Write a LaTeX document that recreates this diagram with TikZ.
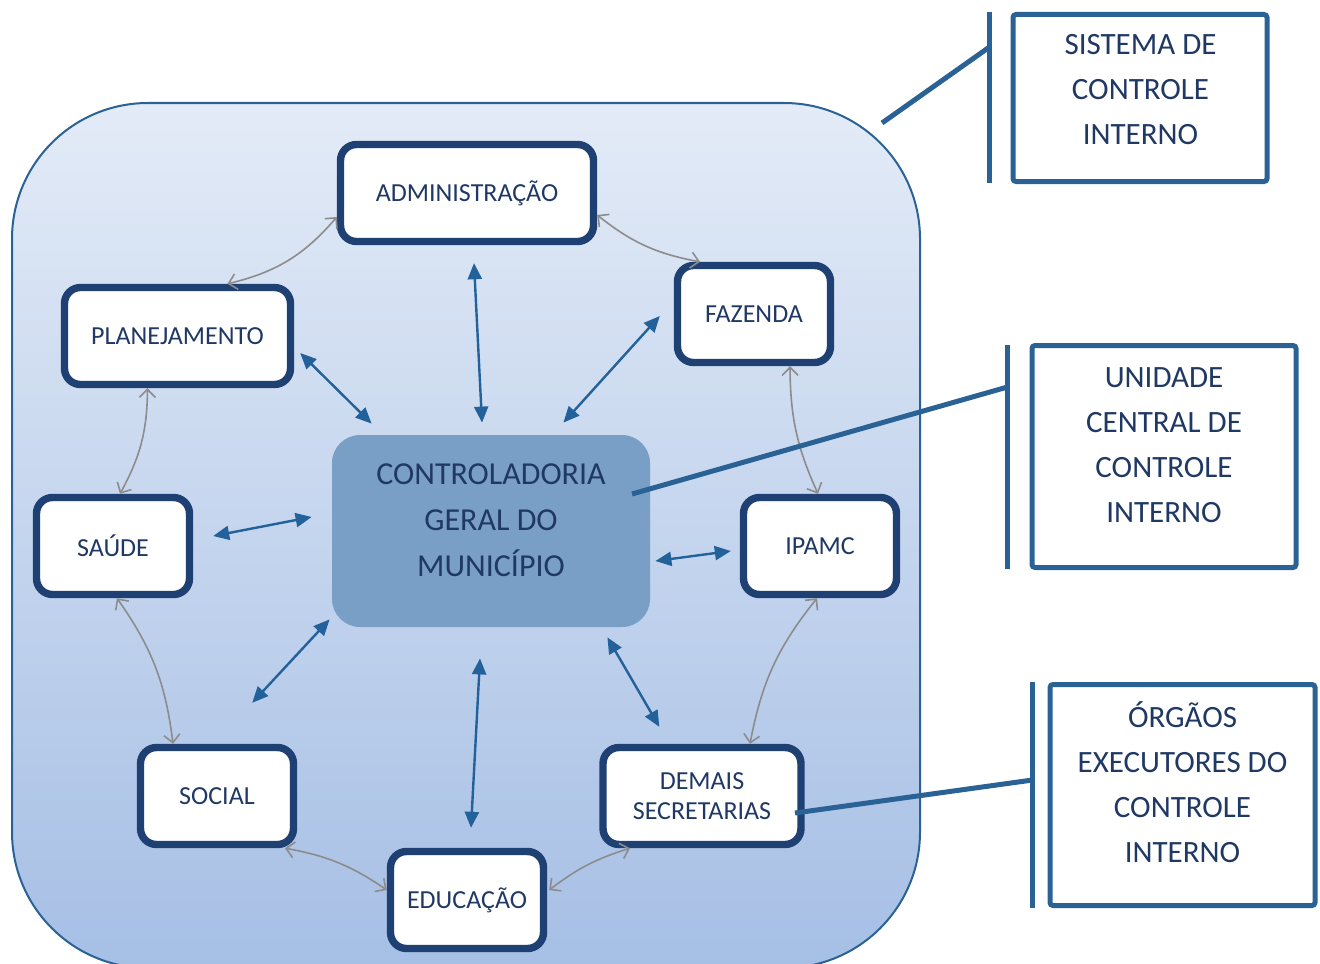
\documentclass[tikz,border=0pt]{standalone}
\usepackage{fontspec}
\setmainfont{Carlito}
\usetikzlibrary{arrows.meta,calc,shadows}
\definecolor{txt}{RGB}{31,56,100}
\definecolor{bord}{RGB}{31,64,115}
\definecolor{frame}{RGB}{42,98,150}
\definecolor{arrb}{RGB}{35,97,154}
\definecolor{grayarr}{RGB}{140,140,140}
\definecolor{bgtop}{RGB}{227,235,247}
\definecolor{bgbot}{RGB}{166,191,229}
\definecolor{ctrlfill}{RGB}{122,159,199}
\tikzset{
  unit/.style={draw=bord, line width=3.7pt, fill=white, rounded corners=8pt,
    text=txt, font=\fontsize{13}{15}\selectfont, align=center,
    minimum height=48.5pt, inner sep=0pt,
    drop shadow={opacity=0.25, shadow xshift=1pt, shadow yshift=-1.5pt}},
  ctrlbox/.style={fill=ctrlfill, rounded corners=14pt, minimum width=159pt,
    minimum height=96pt, inner sep=0pt},
  ctrltext/.style={text=txt, font=\fontsize{16}{23}\selectfont, align=center, inner sep=0pt},
  callbox/.style={draw=frame, line width=2.5pt, fill=white, rounded corners=1.5pt, inner sep=0pt},
  calltext/.style={text=txt, font=\fontsize{15.5}{22.5}\selectfont, align=center, inner sep=0pt},
  callline/.style={draw=frame, line width=2.5pt},
  barr/.style={draw=arrb, line width=1.2pt, {Triangle[length=8pt,width=7pt]}-{Triangle[length=8pt,width=7pt]}},
  garr/.style={draw=grayarr, line width=0.8pt, {Straight Barb[length=4pt,width=8pt]}-{Straight Barb[length=4pt,width=8pt]}},
}
\begin{document}
\begin{tikzpicture}[x=0.5pt,y=-0.5pt]
\useasboundingbox (0,0) rectangle (1320,963);
\clip (0,0) rectangle (1320,963);
% background
\draw[draw=frame, line width=1pt, top color=bgtop, bottom color=bgbot, rounded corners=68pt]
  (12,103) rectangle (920,968);
% central
\node[ctrlbox] (ctrl) at (491,531) {};
\node[ctrltext] (ctrltxt) at (491,520) {CONTROLADORIA\\GERAL DO\\MUNICÍPIO};
% units
\node[unit, minimum width=126.5pt] (adm) at (467,193) {ADMINISTRAÇÃO};
\node[unit, minimum width=76.5pt] (faz) at (754,314) {FAZENDA};
\node[unit, minimum width=113pt] (plan) at (177.5,336) {PLANEJAMENTO};
\node[unit, minimum width=76.5pt] (saude) at (113,546) {SAÚDE};
\node[unit, minimum width=76.5pt] (ipamc) at (820,546) {IPAMC};
\node[unit, minimum width=76.5pt] (social) at (217,796) {SOCIAL};
\node[unit, minimum width=76.5pt] (educ) at (467,900) {EDUCAÇÃO};
\node[unit, minimum width=99pt] (demais) at (702,796) {DEMAIS\\SECRETARIAS};
% blue arrows
\draw[barr] ($(adm.south)+(7,18)$) -- ($(ctrl.north)+(-9,-12)$);
\draw[barr] ($(plan.east)+(6,17)$) -- ($(ctrl.north west)+(40,-11)$);
\draw[barr] ($(faz.west)+(-14,2)$) -- ($(ctrl.north east)+(-87,-12)$);
\draw[barr] ($(saude.east)+(20,-10)$) -- ($(ctrl.west)+(-20,-14)$);
\draw[barr] ($(ctrl.east)+(5,30)$) -- ($(ipamc.west)+(-9,5)$);
\draw[barr] ($(social.north east)+(-45,-41)$) -- ($(ctrl.south west)+(-2,-8)$);
\draw[barr] ($(ctrl.south)+(-11,31)$) -- ($(educ.north)+(4,-20)$);
\draw[barr] ($(ctrl.south east)+(-43,10)$) -- ($(demais.north west)+(60,-17)$);
% gray curved arrows
\draw[garr] ($(plan.north)+(50,0)$) to[bend right=18] ($(adm.west)+(0,24)$);
\draw[garr] ($(adm.east)+(0,22)$) to[bend right=14] ($(faz.north)+(-54,0)$);
\draw[garr] ($(faz.south)+(36,0)$) to[bend right=12] ($(ipamc.north)+(-2,0)$);
\draw[garr] ($(ipamc.south)+(-3,0)$) to[bend right=14] ($(demais.north)+(48,0)$);
\draw[garr] ($(demais.south)+(-72,0)$) to[bend right=10] ($(educ.east)+(2,-10)$);
\draw[garr] ($(educ.west)+(0,-10)$) to[bend right=12] ($(social.south)+(68,0)$);
\draw[garr] ($(social.north)+(-44,0)$) to[bend right=14] ($(saude.south)+(4,0)$);
\draw[garr] ($(saude.north)+(7,0)$) to[bend right=14] ($(plan.south)+(-30,0)$);
% callouts
\node[callbox, minimum width=127pt, minimum height=83.5pt] (sys) at (1140,98) {};
\node[calltext] (systxt) at (1140.5,90) {SISTEMA DE\\CONTROLE\\INTERNO};
\node[callbox, minimum width=132pt, minimum height=111pt] (ucci) at (1164,456.5) {};
\node[calltext] (uccitxt) at (1164,445) {UNIDADE\\CENTRAL DE\\CONTROLE\\INTERNO};
\node[callbox, minimum width=132.5pt, minimum height=110.5pt] (org) at (1182.5,795) {};
\node[calltext] (orgtxt) at (1182.5,782) {ÓRGÃOS\\EXECUTORES DO\\CONTROLE\\INTERNO};
\coordinate (p1) at (882,123);
\coordinate (p2) at (632,494);
\coordinate (p3) at (795,813);
\draw[callline] ($(sys.north west)+(-21,0)$) -- ($(sys.south west)+(-21,-1)$);
\draw[callline] ($(sys.north west)+(-21,35)$) -- (p1);
\draw[callline] ($(ucci.north west)+(-22,2)$) -- ($(ucci.south west)+(-22,-1)$);
\draw[callline] ($(ucci.north west)+(-22,44)$) -- (p2);
\draw[callline] ($(org.north west)+(-15,0)$) -- ($(org.south west)+(-15,0)$);
\draw[callline] ($(org.north west)+(-15,98)$) -- (p3);
\end{tikzpicture}
\end{document}
